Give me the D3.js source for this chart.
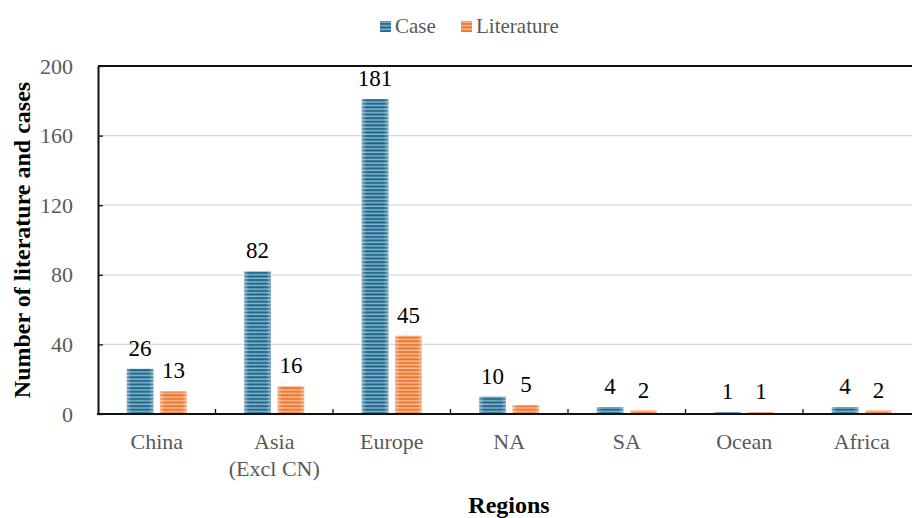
<!DOCTYPE html>
<html>
<head>
<meta charset="utf-8">
<script src="https://cdn.jsdelivr.net/npm/d3@7"></script>
<style>
  html, body { margin: 0; padding: 0; background: #fff; }
  svg { display: block; }
  svg text { font-family: "Times New Roman", "Liberation Serif", Tinos, "DejaVu Serif", serif; }
</style>
</head>
<body>
<svg id="chart" width="912" height="518"></svg>
<script>
// Regions along the x axis (each label may span two lines)
const regions = ["China", "Asia\n(Excl CN)", "Europe", "NA", "SA", "Ocean", "Africa"];
// Series
const seriesNames = ["Case", "Literature"];
const caseCounts = [26, 82, 181, 10, 4, 1, 4];
const literatureCounts = [13, 16, 45, 5, 2, 1, 2];
// Y axis ticks
const yTicks = [0, 40, 80, 120, 160, 200];

const svg = d3.select("#chart");
const W = 912, H = 518;
const plot = { left: 98, right: 920.5, top: 66, bottom: 414 };

const x = d3.scaleBand().domain(regions).range([plot.left, plot.right]).paddingInner(0).paddingOuter(0);
const bw = x.bandwidth();
const xs = d3.scaleBand().domain(seriesNames).range([bw * 0.245, bw * 0.755]).paddingInner(0.2);
const y = d3.scaleLinear().domain([0, 200]).range([plot.bottom, plot.top]);

// Striped fills for the bars
const defs = svg.append("defs");
function stripes(id, dark, light) {
  const p = defs.append("pattern").attr("id", id)
    .attr("patternUnits", "userSpaceOnUse").attr("width", 8).attr("height", 3.6);
  p.append("rect").attr("width", 8).attr("height", 3.6).attr("fill", dark);
  p.append("rect").attr("y", 0.4).attr("width", 8).attr("height", 1.5).attr("fill", light);
}
stripes("stripeCase", "#1f6487", "#86bad4");
stripes("stripeLit", "#ea7630", "#fabd95");
const sheen = defs.append("linearGradient").attr("id", "sheen").attr("x1", 0).attr("x2", 1).attr("y1", 0).attr("y2", 0);
sheen.append("stop").attr("offset", "0%").attr("stop-color", "#fff").attr("stop-opacity", 0.35);
sheen.append("stop").attr("offset", "18%").attr("stop-color", "#fff").attr("stop-opacity", 0.0);
sheen.append("stop").attr("offset", "82%").attr("stop-color", "#fff").attr("stop-opacity", 0.0);
sheen.append("stop").attr("offset", "100%").attr("stop-color", "#fff").attr("stop-opacity", 0.35);

// Gridlines
svg.append("g").selectAll("line").data(yTicks.filter(t => t > 0 && t < 200)).join("line")
  .attr("x1", plot.left).attr("x2", W).attr("y1", d => y(d)).attr("y2", d => y(d))
  .attr("stroke", "#d9d9d9").attr("stroke-width", 1.3);

// Bars
const rows = regions.map((r, i) => ({ region: r, values: [caseCounts[i], literatureCounts[i]] }));
const fills = { "Case": "url(#stripeCase)", "Literature": "url(#stripeLit)" };
const groups = svg.append("g").selectAll("g").data(rows).join("g")
  .attr("transform", d => `translate(${x(d.region)},0)`);
const cells = groups.selectAll("g").data(d => seriesNames.map((s, k) => ({ s, v: d.values[k] }))).join("g");
cells.append("rect")
  .attr("x", d => xs(d.s)).attr("width", xs.bandwidth())
  .attr("y", d => y(d.v)).attr("height", d => y(0) - y(d.v))
  .attr("fill", d => fills[d.s]);
cells.append("rect")
  .attr("x", d => xs(d.s)).attr("width", xs.bandwidth())
  .attr("y", d => y(d.v)).attr("height", d => y(0) - y(d.v))
  .attr("fill", "url(#sheen)");
// Value labels
cells.append("text")
  .attr("x", d => xs(d.s) + xs.bandwidth() / 2)
  .attr("y", d => y(d.v) - 13)
  .attr("text-anchor", "middle").attr("font-size", 23).attr("fill", "#000")
  .text(d => d.v);

// Top border
svg.append("line").attr("x1", plot.left).attr("x2", W).attr("y1", plot.top).attr("y2", plot.top)
  .attr("stroke", "#111").attr("stroke-width", 2);

// Y axis
const yAxis = svg.append("g").attr("transform", `translate(${plot.left},0)`)
  .call(d3.axisLeft(y).tickValues(yTicks).tickSizeInner(-5).tickSizeOuter(0).tickPadding(25));
yAxis.attr("font-family", null);
yAxis.select(".domain").attr("stroke", "#111").attr("stroke-width", 2);
yAxis.selectAll(".tick line").attr("stroke", "#111").attr("stroke-width", 1.3);
yAxis.selectAll(".tick text").attr("font-size", 22).attr("fill", "#595959");

// X axis: baseline, separator ticks, and category labels
svg.append("line").attr("x1", plot.left - 1).attr("x2", W).attr("y1", plot.bottom).attr("y2", plot.bottom)
  .attr("stroke", "#111").attr("stroke-width", 2);
svg.append("g").selectAll("line").data(regions.slice(1)).join("line")
  .attr("x1", d => x(d)).attr("x2", d => x(d))
  .attr("y1", plot.bottom).attr("y2", plot.bottom - 5)
  .attr("stroke", "#111").attr("stroke-width", 1.3);
const xl = svg.append("g").selectAll("text").data(regions).join("text")
  .attr("x", d => x(d) + bw / 2).attr("y", 449)
  .attr("text-anchor", "middle").attr("font-size", 22).attr("fill", "#595959");
xl.each(function(d) {
  const t = d3.select(this);
  d.split("\n").forEach((line, i) => {
    t.append("tspan").attr("x", x(d) + bw / 2).attr("dy", i === 0 ? 0 : 27).text(line);
  });
});

// Axis titles
svg.append("text").attr("x", 509).attr("y", 513).attr("text-anchor", "middle")
  .attr("font-size", 24).attr("font-weight", "bold").attr("fill", "#000").text("Regions");
svg.append("text").attr("transform", "translate(30,240) rotate(-90)").attr("text-anchor", "middle")
  .attr("font-size", 24).attr("font-weight", "bold").attr("fill", "#000").text("Number of literature and cases");

// Legend
const legendItems = [
  { name: "Case", fill: "url(#stripeCase)", x: 380 },
  { name: "Literature", fill: "url(#stripeLit)", x: 461 }
];
const lg = svg.append("g").selectAll("g").data(legendItems).join("g")
  .attr("transform", d => `translate(${d.x},21)`);
lg.append("rect").attr("width", 11).attr("height", 11).attr("fill", d => d.fill);
lg.append("text").attr("x", 15).attr("y", 12).attr("font-size", 21).attr("fill", "#595959").text(d => d.name);
</script>
</body>
</html>
